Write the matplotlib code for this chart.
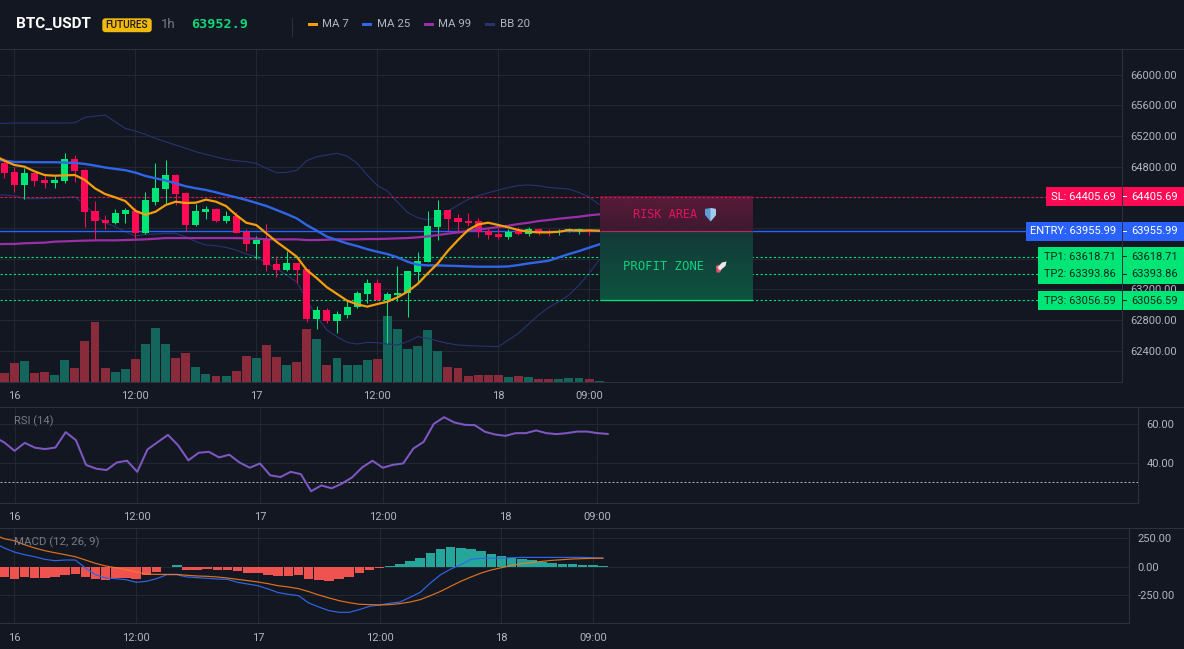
#!/usr/bin/env python3
"""Render a BTC_USDT 1h trading dashboard: candles, indicators and trade levels."""

from __future__ import annotations

import numpy as np
import matplotlib

matplotlib.use("Agg")
import matplotlib.pyplot as plt
from matplotlib.colors import to_rgb
from matplotlib.patches import FancyBboxPatch, Polygon, Rectangle

WIDTH, HEIGHT = 1184, 649

BG = "#131722"
GRID = "#232733"
AXIS = "#2e323e"
TEXT = "#b2b5be"
MUTED = "#787b86"
RED = "#ff0a54"
GREEN = "#00e676"
BLUE = "#2962ff"
VOL_RED = "#8a2b3c"
VOL_GREEN = "#14655c"
MA7_COLOR = "#f59e0b"
MA25_COLOR = "#2f66e8"
MA99_COLOR = "#9c2fa8"
BB_COLOR = "#27346f"

FONT = "Roboto"

# hourly bars, index 0 sits on the "16" tick
FIRST_BAR = -1
OPENS = [64843, 64730, 64560, 64712, 64625, 64587, 64612, 64894, 64756, 64219,
         64102, 64064, 64181, 64224, 63937, 64342, 64508, 64695, 64455, 64037,
         64206, 64246, 64090, 64155, 63951, 63795, 63855, 63525, 63450, 63542,
         63465, 62812, 62930, 62786, 62864, 62969, 63137, 63281, 63060, 63124,
         63150, 63425, 63555, 64011, 64235, 64129, 64085, 64090, 63960, 63924,
         63881, 63959, 63921, 63986, 63955, 63942, 63955, 63959, 63977]
CLOSES = [64721, 64560, 64712, 64617, 64591, 64625, 64894, 64738, 64211, 64090,
          64064, 64190, 64233, 63937, 64364, 64521, 64690, 64442, 64037, 64219,
          64246, 64090, 64155, 63937, 63795, 63842, 63515, 63450, 63542, 63450,
          62812, 62930, 62786, 62877, 62969, 63150, 63281, 63060, 63137, 63146,
          63438, 63568, 64024, 64235, 64116, 64077, 64068, 63946, 63907, 63877,
          63946, 63921, 63986, 63946, 63942, 63955, 63986, 63981, 63950]
HIGHS = [64907, 64799, 64777, 64721, 64690, 64677, 64973, 64951, 64765, 64351,
         64167, 64241, 64255, 64255, 64464, 64843, 64882, 64703, 64464, 64312,
         64285, 64255, 64219, 64211, 63981, 63895, 64046, 63632, 63694, 63542,
         63465, 62982, 62956, 62916, 63047, 63177, 63333, 63333, 63163, 63503,
         63442, 63686, 64220, 64365, 64235, 64182, 64195, 64129, 63999, 63999,
         63990, 64007, 64016, 64003, 63986, 63986, 63999, 64003, 63990]
LOWS = [64656, 64473, 64373, 64547, 64521, 64521, 64581, 64603, 64016, 63854,
        63986, 64051, 64069, 63851, 63921, 64298, 64312, 64298, 63964, 64025,
        64115, 64078, 64069, 63930, 63698, 63589, 63442, 63363, 63442, 63285,
        62777, 62677, 62764, 62633, 62830, 62956, 63021, 63051, 62503, 63043,
        62834, 63281, 63555, 63842, 63960, 63929, 64025, 63881, 63856, 63860,
        63856, 63907, 63899, 63907, 63894, 63903, 63942, 63921, 63907]

VOLUMES = [9, 19, 21, 9, 10, 7, 22, 14, 41, 60, 14, 10, 13, 23, 38, 54, 38, 24,
           29, 15, 8, 6, 6, 11, 26, 24, 37, 25, 17, 20, 53, 43, 17, 24, 17, 17,
           22, 23, 66, 53, 33, 36, 52, 31, 15, 14, 6, 7, 7, 7, 5, 6, 5, 3, 3, 3,
           4, 4, 3, 1]

# indicator series start one hour earlier so they run off the left edge
FIRST_LINE = -2
MA7 = [64950, 64878, 64821, 64799, 64738, 64690, 64681, 64686, 64690, 64625,
       64516, 64442, 64399, 64351, 64224, 64172, 64211, 64298, 64342, 64325,
       64329, 64369, 64342, 64285, 64168, 64068, 64037, 63929, 63820, 63724,
       63625, 63452, 63344, 63226, 63139, 63051, 63004, 62973, 63007, 63038,
       63094, 63169, 63269, 63407, 63537, 63702, 63842, 63972, 64046, 64068,
       64038, 64007, 63972, 63950, 63942, 63942, 63950, 63972, 63964, 63968,
       63964]
MA25 = [64890, 64878, 64860, 64860, 64857, 64857, 64857, 64852, 64848, 64835,
        64813, 64788, 64770, 64753, 64722, 64678, 64648, 64618, 64582, 64543,
        64517, 64495, 64464, 64430, 64399, 64365, 64326, 64286, 64234, 64182,
        64125, 64037, 63964, 63886, 63842, 63798, 63763, 63723, 63689, 63659,
        63616, 63559, 63520, 63511, 63511, 63507, 63503, 63498, 63494, 63494,
        63494, 63498, 63516, 63537, 63554, 63572, 63616, 63659, 63698, 63742,
        63785]
MA99 = [63785, 63791, 63791, 63800, 63804, 63808, 63821, 63825, 63830, 63834,
        63838, 63838, 63838, 63842, 63846, 63851, 63859, 63868, 63868, 63868,
        63868, 63868, 63868, 63868, 63868, 63864, 63859, 63851, 63851, 63851,
        63851, 63842, 63842, 63846, 63851, 63851, 63851, 63855, 63855, 63859,
        63864, 63868, 63877, 63890, 63907, 63925, 63942, 63959, 63981, 63994,
        64012, 64029, 64051, 64068, 64090, 64103, 64120, 64133, 64146, 64164,
        64177]
BB_UPPER = [65360, 65364, 65368, 65368, 65368, 65368, 65368, 65368, 65372, 65442,
            65459, 65472, 65385, 65298, 65264, 65220, 65168, 65124, 65081, 65038,
            64994, 64959, 64929, 64894, 64877, 64864, 64842, 64777, 64720, 64725,
            64751, 64877, 64929, 64951, 64973, 64938, 64843, 64690, 64553, 64481,
            64338, 64201, 64133, 64103, 64142, 64220, 64299, 64370, 64419, 64457,
            64494, 64527, 64553, 64560, 64550, 64527, 64517, 64507, 64462, 64403,
            64305]
BB_LOWER = [64432, 64429, 64420, 64381, 64381, 64385, 64390, 64398, 64407, 64298,
            64168, 64068, 64016, 63951, 63894, 63916, 63920, 63929, 63929, 63885,
            63820, 63777, 63768, 63746, 63711, 63659, 63624, 63538, 63472, 63385,
            63298, 63060, 62842, 62668, 62581, 62507, 62486, 62507, 62503, 62486,
            62473, 62516, 62581, 62560, 62525, 62494, 62473, 62464, 62459, 62455,
            62451, 62538, 62625, 62747, 62864, 62964, 63038, 63125, 63255, 63407,
            63581]

RSI = [53.5, 50.6, 46.3, 50.4, 47.9, 47.2, 48.0, 55.9, 51.8, 39.0, 37.1, 36.4,
       40.3, 41.2, 35.5, 47.0, 50.8, 54.5, 49.1, 41.4, 45.3, 45.8, 42.9, 44.3,
       40.3, 37.6, 39.8, 33.7, 32.8, 35.5, 34.3, 25.5, 28.5, 27.0, 29.4, 32.6,
       37.8, 41.2, 37.6, 39.1, 39.8, 47.5, 50.9, 60.2, 63.6, 60.9, 59.7, 59.5,
       56.1, 54.7, 54.0, 55.4, 55.4, 56.8, 55.4, 54.9, 55.4, 56.2, 56.2, 55.4,
       55.0]

MACD = [209, 165, 129, 106, 88, 65, 53, 59, 59, -12, -71, -100, -106, -115, -138,
        -129, -106, -71, -71, -91, -97, -103, -109, -112, -138, -153, -168, -197,
        -229, -244, -256, -320, -356, -388, -403, -403, -379, -350, -338, -323,
        -312, -270, -226, -144, -71, -21, 18, 65, 74, 76, 76, 79, 82, 82, 82, 82,
        82, 82, 82, 79, 74]
SIGNAL = [282, 247, 229, 194, 165, 141, 123, 106, 88, 59, 29, 6, -9, -26, -47,
          -65, -68, -68, -68, -76, -82, -85, -91, -100, -112, -123, -135, -150,
          -168, -179, -194, -220, -250, -276, -300, -318, -332, -335, -338, -335,
          -326, -312, -291, -256, -218, -173, -129, -91, -56, -29, -9, 12, 26, 38,
          47, 56, 62, 68, 71, 74, 76]
MACD_HIST = [-91, -106, -91, -100, -100, -88, -71, -62, -91, -109, -115, -100,
             -100, -106, -71, -47, -6, 12, -29, -29, -21, -29, -29, -38, -56, -56,
             -71, -79, -79, -71, -106, -115, -123, -109, -88, -56, -29, -9, 9, 26,
             53, 79, 123, 159, 176, 168, 159, 141, 115, 97, 79, 71, 62, 44, 35, 26,
             26, 18, 18, 9]

TIME_TICKS = [0, 12, 24, 36, 48, 57]
TIME_LABELS = ["16", "12:00", "17", "12:00", "18", "09:00"]
PRICE_TICKS = [66000, 65600, 65200, 64800, 64400, 64000, 63600, 63200, 62800, 62400]
# the level tags cover these three ticks, so they carry no label of their own
PRICE_LABELS = ["66000.00", "65600.00", "65200.00", "64800.00", "", "", "",
                "63200.00", "62800.00", "62400.00"]
RSI_TICKS = [60, 40]
MACD_TICKS = [250, 0, -250]

SL = 64405.69
ENTRY = 63955.99
TP1 = 63618.71
TP2 = 63393.86
TP3 = 63056.59

LEGEND = [
    ("MA 7", MA7_COLOR, 307.5, 322),
    ("MA 25", MA25_COLOR, 362, 377),
    ("MA 99", MA99_COLOR, 424, 438),
    ("BB 20", BB_COLOR, 485, 500),
]

X_LIMITS = (-1.42, 109.85)
ZONE_X = (58.08, 73.16)
DOTTED = (0, (2, 2))


def fx(px: float) -> float:
    return px / WIDTH


def fy(py: float) -> float:
    return 1 - py / HEIGHT


def panel(fig, right: float, top: float, bottom: float) -> plt.Axes:
    ax = fig.add_axes([0, fy(bottom), fx(right), (bottom - top) / HEIGHT])
    ax.set_facecolor(BG)
    ax.set_xlim(*X_LIMITS)
    ax.grid(True, color=GRID, linewidth=0.72)
    ax.set_axisbelow(True)
    ax.set_xticks(TIME_TICKS, TIME_LABELS)
    ax.yaxis.tick_right()
    ax.tick_params(axis="x", length=0, colors=TEXT, labelsize=8, pad=7)
    ax.tick_params(axis="y", length=0, colors=TEXT, labelsize=8, pad=6)
    for label in ax.get_xticklabels():
        label.set_fontfamily(FONT)
    for name, spine in ax.spines.items():
        spine.set_color(AXIS)
        spine.set_linewidth(0.72)
        spine.set_visible(name in ("right", "bottom"))
    return ax


def box_label(fig, left: float, center: float, color: str, text_color: str,
              label: str, value: str) -> None:
    for x0, x1 in ((left, 1121.5), (1122.6, WIDTH)):
        fig.add_artist(Rectangle((fx(x0), fy(center + 9.3)), (x1 - x0) / WIDTH,
                                 18.6 / HEIGHT, transform=fig.transFigure,
                                 facecolor=color, edgecolor="none", zorder=5))
    fig.add_artist(Rectangle((fx(1122.6), fy(center + 0.5)), 4 / WIDTH, 1 / HEIGHT,
                             transform=fig.transFigure, facecolor=text_color,
                             edgecolor="none", zorder=6))
    fig.text(fx(1116), fy(center), label, color=text_color, ha="right", va="center",
             fontsize=8, family=FONT, zorder=6)
    fig.text(fx(1131), fy(center), value, color=text_color, ha="left", va="center",
             fontsize=8, family=FONT, zorder=6)


def gradient_zone(ax: plt.Axes, y0: float, y1: float, top: str, bottom: str) -> None:
    shades = np.linspace(to_rgb(top), to_rgb(bottom), 48)[:, None, :]
    ax.imshow(shades, extent=(*ZONE_X, y0, y1), aspect="auto", origin="upper",
              interpolation="bilinear", zorder=6)


def set_value_ticks(ax: plt.Axes, ticks: list, labels: list) -> None:
    ax.set_yticks(ticks, labels)
    for label in ax.get_yticklabels():
        label.set_fontfamily(FONT)


def draw_price(ax: plt.Axes) -> None:
    volume_ax = ax.inset_axes([0, 0, 1, 1], sharex=ax)
    volume_ax.patch.set_alpha(0)
    volume_ax.set_ylim(0, 332.7)
    volume_ax.axis("off")
    volume_ax.set_zorder(0.5)
    vol_x = np.arange(FIRST_BAR, FIRST_BAR + len(VOLUMES))
    vol_colors = [
        VOL_GREEN if i < len(OPENS) and CLOSES[i] >= OPENS[i] else VOL_RED
        for i in range(len(VOLUMES))
    ]
    volume_ax.bar(vol_x, VOLUMES, width=0.88, color=vol_colors, linewidth=0)
    # the newest bar has its candle behind the zones
    volume_ax.patches[-1].set_facecolor(VOL_GREEN)

    ax.patch.set_visible(False)
    line_x = np.arange(FIRST_LINE, FIRST_LINE + len(MA7))
    ax.plot(line_x, BB_UPPER, color=BB_COLOR, linewidth=0.8, zorder=2)
    ax.plot(line_x, BB_LOWER, color=BB_COLOR, linewidth=0.8, zorder=2)

    for level, color in ((SL, RED), (TP1, GREEN), (TP2, GREEN), (TP3, GREEN)):
        ax.axhline(level, color=color, linewidth=0.8, linestyle=DOTTED, zorder=2.5)
    ax.axhline(ENTRY, color=BLUE, linewidth=1.0, zorder=2.5)

    # candles: wick first, then the body on top
    bar_x = np.arange(FIRST_BAR, FIRST_BAR + len(OPENS))
    for x, o, c, h, l in zip(bar_x, OPENS, CLOSES, HIGHS, LOWS):
        color = GREEN if c >= o else RED
        ax.vlines(x, l, h, color=color, linewidth=0.75, zorder=3)
        ax.bar(x, abs(c - o), bottom=min(o, c), width=0.7, color=color,
               linewidth=0, zorder=3.1)

    ax.plot(line_x, MA99, color=MA99_COLOR, linewidth=1.6, zorder=4)
    ax.plot(line_x, MA25, color=MA25_COLOR, linewidth=1.7, zorder=4.1)
    ax.plot(line_x, MA7, color=MA7_COLOR, linewidth=1.6, zorder=4.2)

    gradient_zone(ax, ENTRY, SL, "#5a1a38", "#3d1a30")
    gradient_zone(ax, TP3, ENTRY, "#133a38", "#0e5340")
    ax.hlines(SL, *ZONE_X, color=RED, linewidth=0.8, zorder=7, linestyle=DOTTED)
    ax.hlines(ENTRY, *ZONE_X, color="#b02a60", linewidth=0.9, zorder=7)
    ax.hlines(TP3, *ZONE_X, color=GREEN, linewidth=0.9, zorder=7)

    ax.set_xlim(*X_LIMITS)
    ax.set_ylim(61994, 66334)
    set_value_ticks(ax, PRICE_TICKS, PRICE_LABELS)


def draw_rsi(ax: plt.Axes) -> None:
    line_x = np.arange(FIRST_LINE, FIRST_LINE + len(RSI))
    ax.plot(line_x, RSI, color="#7e57c2", linewidth=1.45, zorder=3)
    ax.axhline(30, color="#aeb1b9", linewidth=0.72, linestyle=DOTTED, zorder=2)
    ax.set_ylim(19.6, 68.7)
    set_value_ticks(ax, RSI_TICKS, [f"{v:.2f}" for v in RSI_TICKS])


def draw_macd(ax: plt.Axes) -> None:
    bar_x = np.arange(FIRST_BAR, FIRST_BAR + len(MACD_HIST))
    colors = ["#26a69a" if v >= 0 else "#ef5350" for v in MACD_HIST]
    ax.bar(bar_x, MACD_HIST, width=0.94, color=colors, linewidth=0, zorder=2)
    line_x = np.arange(FIRST_LINE, FIRST_LINE + len(MACD))
    ax.plot(line_x, MACD, color="#2f66e8", linewidth=0.85, zorder=3)
    ax.plot(line_x, SIGNAL, color="#f57c1f", linewidth=0.85, alpha=0.9, zorder=3.1)
    ax.set_ylim(-500, 339)
    set_value_ticks(ax, MACD_TICKS, [f"{v:.2f}" for v in MACD_TICKS])


def draw_header(fig) -> None:
    for y in (48.5, 407.3, 528.3):
        fig.add_artist(plt.Line2D([0, 1], [fy(y)] * 2, color=AXIS, linewidth=0.72, zorder=2))
    fig.text(fx(16), fy(24), "BTC_USDT", color="white", fontsize=11, weight="bold",
             family=FONT, va="center")
    fig.add_artist(FancyBboxPatch((fx(103), fy(31.5)), 48 / WIDTH, 12.5 / HEIGHT,
                                  boxstyle="round,pad=0,rounding_size=0.002",
                                  mutation_aspect=1.8, transform=fig.transFigure,
                                  facecolor="#f0b90b", edgecolor="#f0b90b", linewidth=1))
    fig.text(fx(127), fy(25), "FUTURES", color="#1a1a1a", fontsize=7.2, family=FONT,
             weight="medium", ha="center", va="center")
    fig.text(fx(161), fy(24), "1h", color=MUTED, fontsize=9.5, family=FONT, va="center")
    fig.text(fx(191), fy(24), "63952.9", color="#12d678", fontsize=9.7, weight="bold",
             family="DejaVu Sans Mono", va="center")
    fig.add_artist(plt.Line2D([fx(291.5)] * 2, [fy(18), fy(36)], color=AXIS, linewidth=0.72))
    for name, color, swatch, text_x in LEGEND:
        fig.add_artist(Rectangle((fx(swatch), fy(25.5)), 10 / WIDTH, 3 / HEIGHT,
                                 transform=fig.transFigure, facecolor=color,
                                 edgecolor="none"))
        fig.text(fx(text_x), fy(24), name, color=TEXT, fontsize=8.2, family=FONT,
                 va="center")


def badge(fig, points: list, color: str) -> None:
    fig.add_artist(Polygon([(fx(x), fy(y)) for x, y in points], transform=fig.transFigure,
                           facecolor=color, edgecolor="none", zorder=8))


def draw_zone_text(fig) -> None:
    fig.text(fx(633), fy(215), "RISK AREA", color="#e0145c", fontsize=8.6,
             family="DejaVu Sans Mono", va="center", zorder=8)
    fig.text(fx(623), fy(267), "PROFIT ZONE", color="#10cf80", fontsize=8.8,
             family="DejaVu Sans Mono", va="center", zorder=8)
    # shield
    badge(fig, [(705, 209), (710.5, 208), (716, 209), (716, 215), (710.5, 221.5), (705, 215)],
          "#5f9bd6")
    badge(fig, [(710.5, 208), (716, 209), (716, 215), (710.5, 221.5)], "#a3cbea")
    # rocket
    badge(fig, [(716, 266), (719, 264.5), (722, 268.5), (720, 272.5), (716.5, 272.5)], "#e0566c")
    badge(fig, [(726.5, 261.5), (722, 262.5), (717.5, 267.5), (720, 270.5), (725.5, 266)], "#efe6ea")


def main() -> None:
    fig = plt.figure(figsize=(WIDTH / 100, HEIGHT / 100), dpi=100, facecolor=BG)

    price_ax = panel(fig, 1122, 49, 381.7)
    rsi_ax = panel(fig, 1138, 407.3, 502.7)
    macd_ax = panel(fig, 1129, 528.3, 623.3)
    draw_price(price_ax)
    draw_rsi(rsi_ax)
    draw_macd(macd_ax)

    draw_header(fig)
    fig.text(fx(14), fy(421), "RSI (14)", color=MUTED, fontsize=8, family=FONT,
             va="center", zorder=8)
    fig.text(fx(14), fy(542), "MACD (12, 26, 9)", color=MUTED, fontsize=8.2, family=FONT,
             va="center", zorder=8)
    draw_zone_text(fig)

    box_label(fig, 1046, 196.5, RED, "white", f"SL: {SL}", f"{SL}")
    box_label(fig, 1026, 231.5, BLUE, "white", f"ENTRY: {ENTRY}", f"{ENTRY}")
    box_label(fig, 1038, 256.6, GREEN, "#0d2a1e", f"TP1: {TP1}", f"{TP1}")
    box_label(fig, 1038, 274.4, GREEN, "#0d2a1e", f"TP2: {TP2}", f"{TP2}")
    box_label(fig, 1038, 300.5, GREEN, "#0d2a1e", f"TP3: {TP3}", f"{TP3}")

    fig.savefig("out.png", dpi=100, facecolor=BG)
    plt.close(fig)


if __name__ == "__main__":
    main()
